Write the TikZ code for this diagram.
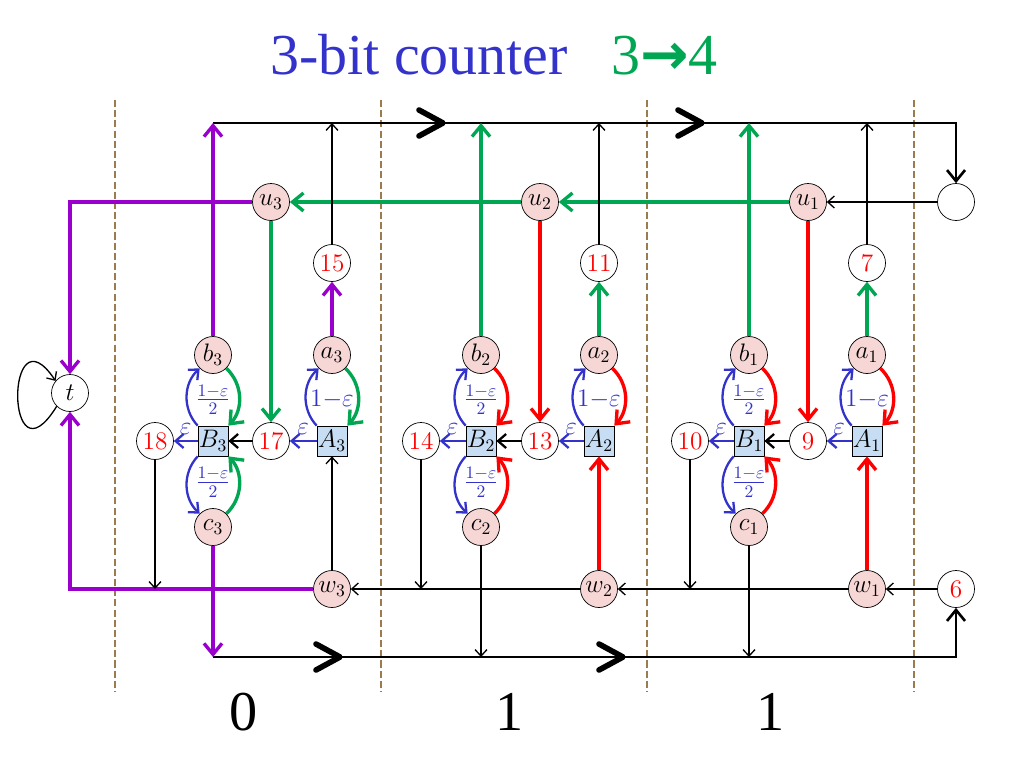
\documentclass[tikz,border=0pt]{standalone}
\usepackage{fontspec}
\usepackage{amsmath}
\usepackage{tikz}
\usetikzlibrary{arrows.meta}
\newfontfamily\timesfont{Liberation Serif}
\newfontfamily\symfont{DejaVu Sans}
\definecolor{cblue}{HTML}{3333CC}
\definecolor{cgreen}{HTML}{00A651}
\definecolor{cred}{HTML}{FF0000}
\definecolor{cpurple}{HTML}{9900CC}
\definecolor{cbrown}{HTML}{9C7B4F}
\definecolor{softpink}{HTML}{F7D7D5}
\definecolor{softblue}{HTML}{C6DDF3}

\begin{document}
\begin{tikzpicture}[
    x=0.02cm, y=-0.02cm,
    state/.style={circle, draw, fill=softpink, minimum size=0.74cm, inner sep=0pt, font=\Large},
    num/.style={circle, draw, fill=white, text=cred, minimum size=0.74cm, inner sep=0pt, font=\Large},
    act/.style={rectangle, draw, fill=softblue, minimum size=0.6cm, inner sep=0pt, font=\Large},
    link/.style={-{Straight Barb[length=1.3mm,width=2.4mm]}, line width=0.75pt},
    heavy/.style={-{Straight Barb[length=2.2mm,width=3.6mm]}, line width=1.9pt},
    prob/.style={-{Straight Barb[length=1.6mm,width=2.8mm]}, line width=1.3pt, draw=cblue},
    lbl/.style={text=cblue, font=\Large, inner sep=0pt},
    flbl/.style={text=cblue, font=\Large, inner sep=0pt},
    sep/.style={draw=cbrown, dash pattern=on 4pt off 1.8pt, line width=1.6pt},
    digit/.style={font=\timesfont\fontsize{32}{34}\selectfont},
    rail/.style={line width=1.5pt, -{Straight Barb[length=2.2mm,width=3.6mm]}},
    chev/.style={line width=3.2pt, line cap=round, line join=round}
]
\useasboundingbox (0,0) rectangle (1023,767);

% title
\node[font=\timesfont\fontsize{33}{36}\selectfont] (title) at (494,55)
    {\textcolor{cblue}{3-bit counter}\hspace{0.75em}\textcolor{cgreen}{3{\symfont\bfseries →}4}};

% bit separators
\draw[sep] (115,100) -- (115,692);
\draw[sep] (381,100) -- (381,692);
\draw[sep] (647,100) -- (647,692);
\draw[sep] (914,100) -- (914,692);

% nodes
\node[circle, draw, fill=white, font=\Large, minimum size=0.74cm, inner sep=0pt] (t) at (70,393) {$t$};
\node[circle, draw, fill=white, minimum size=0.74cm] (ghost) at (956,202) {};
\node[num] (n6) at (956,589) {6};

\node[state] (u3) at (271,202) {$u_3$};
\node[num] (n15) at (332,263) {15};
\node[state] (b3) at (213,355) {$b_3$};
\node[state] (a3) at (332,355) {$a_3$};
\node[num] (n18) at (155,441) {18};
\node[act] (B3) at (213,441) {$B_3$};
\node[num] (n17) at (271,441) {17};
\node[act] (A3) at (332,441) {$A_3$};
\node[state] (c3) at (213,527) {$c_3$};
\node[state] (w3) at (332,589) {$w_3$};

\node[state] (u2) at (540,202) {$u_2$};
\node[num] (n11) at (599,263) {11};
\node[state] (b2) at (481,355) {$b_2$};
\node[state] (a2) at (599,355) {$a_2$};
\node[num] (n14) at (421,441) {14};
\node[act] (B2) at (481,441) {$B_2$};
\node[num] (n13) at (540,441) {13};
\node[act] (A2) at (599,441) {$A_2$};
\node[state] (c2) at (481,527) {$c_2$};
\node[state] (w2) at (599,589) {$w_2$};

\node[state] (u1) at (808,202) {$u_1$};
\node[num] (n7) at (867,263) {7};
\node[state] (b1) at (749,355) {$b_1$};
\node[state] (a1) at (867,355) {$a_1$};
\node[num] (n10) at (690,441) {10};
\node[act] (B1) at (749,441) {$B_1$};
\node[num] (n9) at (808,441) {9};
\node[act] (A1) at (867,441) {$A_1$};
\node[state] (c1) at (749,527) {$c_1$};
\node[state] (w1) at (867,589) {$w_1$};

\coordinate (tl) at (213,123);
\coordinate (tr) at (956,123);
\coordinate (bl) at (213,657);
\coordinate (br) at (956,657);
\coordinate (tc1) at (443,123);
\coordinate (tc2) at (702,123);
\coordinate (bc1) at (340,657);
\coordinate (bc2) at (623,657);

% rails
\draw[rail] (tl) -- (tr) -- (ghost);
\draw[rail] (bl) -- (br) -- (n6);
\draw[chev] (tc1) ++(-24,-13) -- (tc1) -- ++(-24,13);
\draw[chev] (tc2) ++(-24,-13) -- (tc2) -- ++(-24,13);
\draw[chev] (bc1) ++(-24,-13) -- (bc1) -- ++(-24,13);
\draw[chev] (bc2) ++(-24,-13) -- (bc2) -- ++(-24,13);

% u and w rows
\draw[link] (ghost) -- (u1);
\draw[heavy, cgreen] (u1) -- (u2);
\draw[heavy, cgreen] (u2) -- (u3);
\draw[heavy, cpurple] (u3) -| (t);
\draw[link] (n6) -- (w1);
\draw[link] (w1) -- (w2);
\draw[link] (w2) -- (w3);
\draw[heavy, cpurple] (w3) -| (t);
\draw[link] (t.225) .. controls (5,490) and (5,305) .. (t.140);

% bit 0
\draw[heavy, cpurple] (b3) -- (b3 |- tl);
\draw[heavy, cpurple] (a3) -- (n15);
\draw[link] (n15) -- (n15 |- tl);
\draw[heavy, cpurple] (c3) -- (c3 |- bl);
\draw[heavy, cgreen] (u3) -- (n17);
\draw[link] (w3) -- (A3);
\draw[link] (n18) -- (n18 |- w3);
\draw[line width=1.3pt, -{Straight Barb[length=1.6mm,width=2.8mm]}] (n17) -- (B3);
\draw[prob] (A3) -- node[lbl, above=3pt] {$\varepsilon$} (n17);
\draw[prob] (B3) -- node[lbl, above=3pt] {$\varepsilon$} (n18);
\draw[prob] (A3) to[bend left=45] (a3);
\draw[heavy, cgreen] (a3) to[bend left=45] (A3);
\draw[prob] (B3) to[bend left=45] (b3);
\draw[heavy, cgreen] (b3) to[bend left=45] (B3);
\draw[prob] (B3) to[bend right=45] (c3);
\draw[heavy, cgreen] (c3) to[bend right=45] (B3);
\path (a3) -- node[lbl] {$1{-}\varepsilon$} (A3);
\path (b3) -- node[flbl] {$\frac{1-\varepsilon}{2}$} (B3);
\path (B3) -- node[flbl] {$\frac{1-\varepsilon}{2}$} (c3);

% bit 1
\draw[heavy, cgreen] (b2) -- (b2 |- tl);
\draw[heavy, cgreen] (a2) -- (n11);
\draw[link] (n11) -- (n11 |- tl);
\draw[link] (c2) -- (c2 |- bl);
\draw[heavy, cred] (u2) -- (n13);
\draw[heavy, cred] (w2) -- (A2);
\draw[link] (n14) -- (n14 |- w2);
\draw[line width=1.3pt, -{Straight Barb[length=1.6mm,width=2.8mm]}] (n13) -- (B2);
\draw[prob] (A2) -- node[lbl, above=3pt] {$\varepsilon$} (n13);
\draw[prob] (B2) -- node[lbl, above=3pt] {$\varepsilon$} (n14);
\draw[prob] (A2) to[bend left=45] (a2);
\draw[heavy, cred] (a2) to[bend left=45] (A2);
\draw[prob] (B2) to[bend left=45] (b2);
\draw[heavy, cred] (b2) to[bend left=45] (B2);
\draw[prob] (B2) to[bend right=45] (c2);
\draw[heavy, cred] (c2) to[bend right=45] (B2);
\path (a2) -- node[lbl] {$1{-}\varepsilon$} (A2);
\path (b2) -- node[flbl] {$\frac{1-\varepsilon}{2}$} (B2);
\path (B2) -- node[flbl] {$\frac{1-\varepsilon}{2}$} (c2);

% bit 2
\draw[heavy, cgreen] (b1) -- (b1 |- tl);
\draw[heavy, cgreen] (a1) -- (n7);
\draw[link] (n7) -- (n7 |- tl);
\draw[link] (c1) -- (c1 |- bl);
\draw[heavy, cred] (u1) -- (n9);
\draw[heavy, cred] (w1) -- (A1);
\draw[link] (n10) -- (n10 |- w1);
\draw[line width=1.3pt, -{Straight Barb[length=1.6mm,width=2.8mm]}] (n9) -- (B1);
\draw[prob] (A1) -- node[lbl, above=3pt] {$\varepsilon$} (n9);
\draw[prob] (B1) -- node[lbl, above=3pt] {$\varepsilon$} (n10);
\draw[prob] (A1) to[bend left=45] (a1);
\draw[heavy, cred] (a1) to[bend left=45] (A1);
\draw[prob] (B1) to[bend left=45] (b1);
\draw[heavy, cred] (b1) to[bend left=45] (B1);
\draw[prob] (B1) to[bend right=45] (c1);
\draw[heavy, cred] (c1) to[bend right=45] (B1);
\path (a1) -- node[lbl] {$1{-}\varepsilon$} (A1);
\path (b1) -- node[flbl] {$\frac{1-\varepsilon}{2}$} (B1);
\path (B1) -- node[flbl] {$\frac{1-\varepsilon}{2}$} (c1);

% bit values
\node[digit] (bit3) at (244,712) {0};
\node[digit] (bit2) at (510,712) {1};
\node[digit] (bit1) at (771,712) {1};
\end{tikzpicture}
\end{document}
